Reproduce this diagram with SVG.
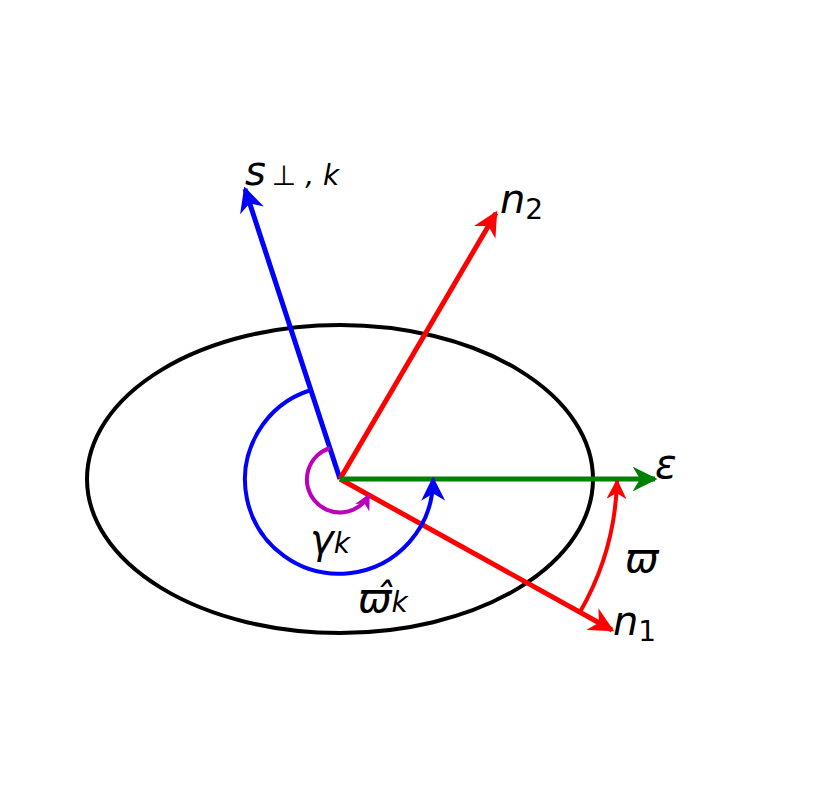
<svg xmlns="http://www.w3.org/2000/svg" width="831" height="810" viewBox="0 0 831 810">
<style>
.t{font-family:"DejaVu Sans",sans-serif;font-style:italic;font-size:40px;fill:#000}
.s{font-size:28px}
</style>
<defs>
<marker id="mb" viewBox="0 0 10 10" refX="9" refY="5" markerWidth="5" markerHeight="5" orient="auto" markerUnits="strokeWidth"><path d="M0,0L10,5L0,10L3,5z" fill="#00f"/></marker>
<marker id="mr" viewBox="0 0 10 10" refX="9" refY="5" markerWidth="5" markerHeight="5" orient="auto" markerUnits="strokeWidth"><path d="M0,0L10,5L0,10L3,5z" fill="#f00"/></marker>
<marker id="mg" viewBox="0 0 10 10" refX="9" refY="5" markerWidth="5" markerHeight="5" orient="auto" markerUnits="strokeWidth"><path d="M0,0L10,5L0,10L3,5z" fill="#008000"/></marker>
<marker id="mbs" viewBox="0 0 10 10" refX="9" refY="5" markerWidth="6" markerHeight="6" orient="auto" markerUnits="strokeWidth"><path d="M0,0L10,5L0,10L3,5z" fill="#00f"/></marker>
<marker id="mm" viewBox="0 0 10 10" refX="9" refY="5" markerWidth="4" markerHeight="4" orient="auto" markerUnits="strokeWidth"><path d="M0,0L10,5L0,10L3,5z" fill="#b0b"/></marker>
</defs>
<g id="ellipse"><ellipse cx="340" cy="479" rx="253" ry="154" fill="none" stroke="#000" stroke-width="4"/></g>
<g id="connectors" fill="none" stroke-width="5">
<line x1="340" y1="479" x2="245" y2="189" stroke="#00f" marker-end="url(#mb)"/>
<line x1="340" y1="479" x2="496" y2="213" stroke="#f00" marker-end="url(#mr)"/>
<line x1="340" y1="479" x2="612" y2="630" stroke="#f00" marker-end="url(#mr)"/>
<line x1="340" y1="479" x2="655" y2="479" stroke="#008000" marker-end="url(#mg)"/>
<path d="M311,390 A94,94 0 1 0 433,479" stroke="#00f" stroke-width="4" marker-end="url(#mbs)"/>
<path d="M330,448 A33,33 0 1 0 369,495" stroke="#b0b" stroke-width="4" marker-end="url(#mm)"/>
<path d="M580,612 A277,277 0 0 0 617,481" stroke="#f00" stroke-width="4" marker-end="url(#mr)"/>
</g>
<g id="labels">
<text class="t" x="245" y="185">s<tspan class="s" dx="6">⊥ , k</tspan></text>
<text class="t" x="500" y="213">n<tspan class="s" dy="6" font-style="normal">2</tspan></text>
<text class="t" x="655" y="478">ε</text>
<text class="t" x="625" y="572">ϖ</text>
<text class="t" x="613" y="635">n<tspan class="s" dy="6" font-style="normal">1</tspan></text>
<text class="t" x="310" y="553">γ<tspan class="s" dy="0">k</tspan></text>
<text class="t" x="358" y="612">ϖ̂<tspan class="s">k</tspan></text>
</g>
</svg>
